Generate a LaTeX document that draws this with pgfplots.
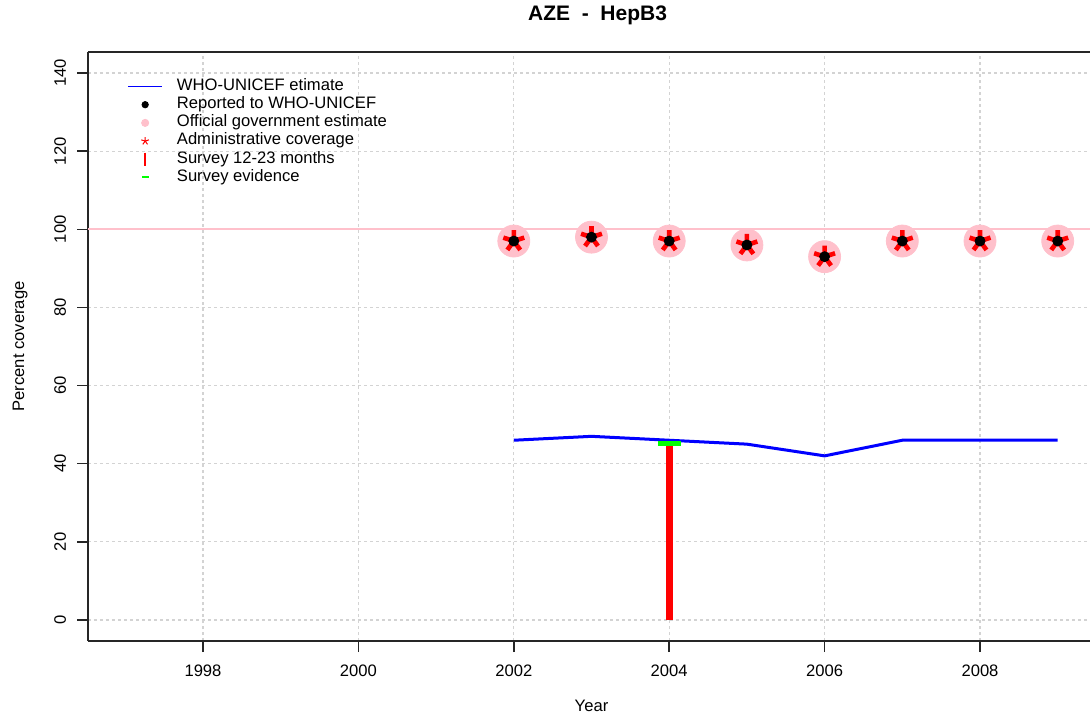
\documentclass[border=0pt]{standalone}
\usepackage{fontspec}
\setmainfont{Liberation Sans}
\usepackage{pgfplots}
\pgfplotsset{compat=1.18}
\usetikzlibrary{calc}
\definecolor{rpink}{HTML}{FFC0CB}
\definecolor{rgreen}{HTML}{00FF00}
\definecolor{rblue}{HTML}{0000FF}
\definecolor{rred}{HTML}{FF0000}
\definecolor{gridgray}{HTML}{D3D3D3}

\begin{document}
\begin{tikzpicture}
\begin{axis}[
    scale only axis,
    width=503.5pt, height=294.5pt,
    xmin=1996.52, xmax=2009.48,
    ymin=-5.4, ymax=145.4,
    axis x line*=box, axis y line*=left,
    axis line style={black!85, line width=0.8pt},
    xtick={1998,2000,...,2008},
    ytick={0,20,...,140},
    xtick pos=bottom, ytick pos=left,
    tick align=outside,
    major tick length=5.5pt,
    tick style={black!85, line width=0.8pt},
    grid=major,
    grid style={gridgray, line width=0.6pt, dash pattern=on 1.5pt off 1.5pt},
    /pgf/number format/assume math mode=true,
    /pgf/number format/1000 sep={},
    font=\fontsize{8.3}{10}\selectfont,
    ticklabel style={font=\fontsize{8.3}{10}\selectfont},
    xticklabel style={yshift=-3pt},
    yticklabel style={rotate=90, anchor=south, yshift=2pt},
    xlabel={Year},
    ylabel={Percent coverage},
    title={AZE\ \ -\ \ HepB3},
    every axis x label/.style={at={(axis description cs:0.5,-0.1104)}, anchor=center},
    every axis y label/.style={at={(axis description cs:-0.0675,0.5)}, anchor=center, rotate=90},
    every axis title/.style={at={(axis description cs:0.506,1.0628)}, anchor=center,
        font=\fontsize{10.5}{12}\selectfont\bfseries},
    legend style={at={(axis description cs:0,1)}, anchor=north west,
        xshift=16.5pt, yshift=-10.5pt, draw=none, fill=none,
        font=\fontsize{8.3}{10}\selectfont,
        nodes={inner sep=0pt, text height=6.5pt, text depth=2.6pt},
        /tikz/every odd column/.append style={column sep=7pt}},
    legend cell align=left,
]
\coordinate (sw) at (rel axis cs:0,0);
\coordinate (ne) at (rel axis cs:1,1);

% legend images
\addlegendimage{color=rblue, draw=rblue, line width=0.7pt}
\addlegendentry{WHO-UNICEF etimate}
\addlegendimage{only marks, mark=*, black, mark size=1.6pt}
\addlegendentry{Reported to WHO-UNICEF}
\addlegendimage{only marks, mark=*, rpink, mark size=1.8pt}
\addlegendentry{Official government estimate}
\addlegendimage{only marks, mark=star, rred, mark size=2pt, line width=0.5pt}
\addlegendentry{Administrative coverage}
\addlegendimage{only marks, mark=|, rred, mark size=3.3pt, line width=0.7pt}
\addlegendentry{Survey 12-23 months}
\addlegendimage{only marks, mark=-, color=rgreen, draw=rgreen, mark size=1.8pt, line width=1pt}
\addlegendentry{Survey evidence}

% reference line at 100
\addplot[rpink, line width=1pt, forget plot] coordinates {(1996.52,100) (2009.48,100)};

% official government estimate
\addplot[only marks, mark=*, mark size=8pt, rpink, forget plot] coordinates {
(2002,97) (2003,98) (2004,97) (2005,96) (2006,93) (2007,97) (2008,97) (2009,97)};

% administrative coverage
\addplot[only marks, mark=star, mark size=5.5pt, rred, line width=2.3pt, forget plot] coordinates {
(2002,97) (2003,98) (2004,97) (2005,96) (2006,93) (2007,97) (2008,97) (2009,97)};

% reported to WHO-UNICEF
\addplot[only marks, mark=*, mark size=2.5pt, black, forget plot] coordinates {
(2002,97) (2003,98) (2004,97) (2005,96) (2006,93) (2007,97) (2008,97) (2009,97)};

% survey evidence
\addplot[only marks, mark=-, mark size=5.75pt, rgreen, line width=2.5pt, forget plot] coordinates {
(2004,45.2)};

% survey 12-23 months
\addplot[ycomb, rred, line width=3.5pt, forget plot] coordinates {(2004,46)};

% WHO-UNICEF estimate
\addplot[rblue, line width=1.5pt, forget plot] coordinates {
(2002,46) (2003,47) (2004,46) (2005,45) (2006,42) (2007,46) (2008,46) (2009,46)};
\end{axis}
\pgfresetboundingbox
\path ($(sw)+(-44pt,-38pt)$) rectangle ($(ne)+(-2.5pt,26pt)$);
\end{tikzpicture}
\end{document}
